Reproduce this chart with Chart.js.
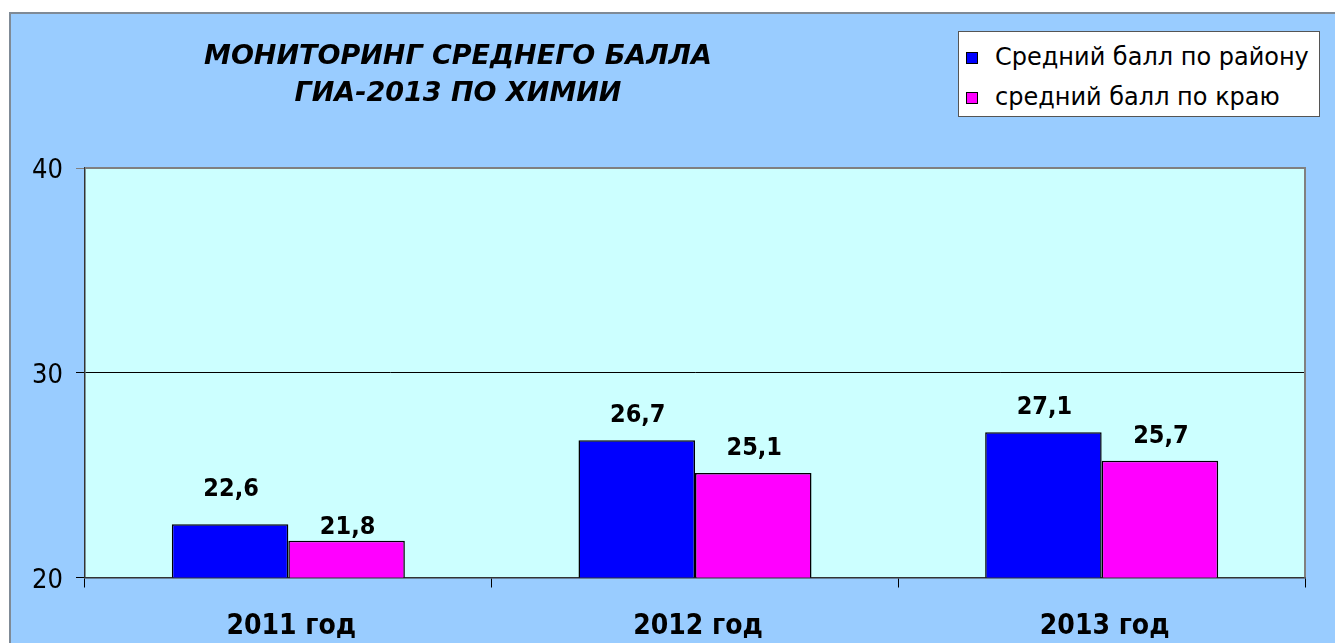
<!DOCTYPE html>
<html>
<head>
<meta charset="utf-8">
<script src="https://cdn.jsdelivr.net/npm/chart.js@4.4.0/dist/chart.umd.min.js"></script>
<style>
  html, body { margin: 0; padding: 0; background: #ffffff; width: 1335px; height: 643px; overflow: hidden; }
  #frame { position: absolute; left: 9px; top: 12px; width: 1400px; height: 700px;
           background: #99CCFF; border-left: 2px solid #7f8a96; border-top: 2px solid #7f8a96; }
  #chart { position: absolute; left: 0; top: 0; }
  #title { position: absolute; left: 158px; width: 600px; top: 36px; text-align: center;
           font-family: "DejaVu Sans", sans-serif; font-weight: bold; font-style: italic;
           font-size: 27px; line-height: 37px; color: #000; }
  #legend { position: absolute; left: 958px; top: 31px; width: 360px; height: 84px; background: #ffffff;
            border: 1px solid #555; font-family: "DejaVu Sans", sans-serif; font-size: 24px; color: #000; }
  .item { position: absolute; left: 7px; height: 30px; line-height: 30px; white-space: nowrap; }
  .sw { display: inline-block; width: 10px; height: 10px; border: 1px solid #000; margin-right: 17px; vertical-align: 1px; }
</style>
</head>
<body>
<div id="frame"></div>
<canvas id="chart" width="1335" height="643"></canvas>
<div id="title">МОНИТОРИНГ СРЕДНЕГО БАЛЛА<br>ГИА-2013 ПО ХИМИИ</div>
<div id="legend"></div>
<script>
const categories = ["2011 год", "2012 год", "2013 год"];
const seriesNames = ["Средний балл по району", "средний балл по краю"];
const districtValues = [22.6, 26.7, 27.1];
const regionValues = [21.8, 25.1, 25.7];
const yTicks = [20, 30, 40];
const seriesColors = ["#0000FF", "#FF00FF"];

// legend built from the series arrays
const legendEl = document.getElementById('legend');
seriesNames.forEach((name, i) => {
  const d = document.createElement('div');
  d.className = 'item';
  d.style.top = (i === 0 ? 10 : 50) + 'px';
  d.innerHTML = '<span class="sw" style="background:' + seriesColors[i] + '"></span>' + name;
  legendEl.appendChild(d);
});

const plotBg = {
  id: 'plotBg',
  beforeDraw(chart) {
    const { ctx, chartArea: a } = chart;
    ctx.save();
    ctx.fillStyle = '#CCFFFF';
    ctx.fillRect(a.left, a.top, a.right - a.left, a.bottom - a.top);
    ctx.restore();
  },
  afterDraw(chart) {
    const { ctx, chartArea: a } = chart;
    ctx.save();
    ctx.strokeStyle = '#808080';
    ctx.lineWidth = 2;
    ctx.beginPath();
    ctx.moveTo(a.left, a.top);
    ctx.lineTo(a.right, a.top);
    ctx.lineTo(a.right, a.bottom);
    ctx.stroke();
    ctx.restore();
  }
};

// label gap above each bar (style only; the reference has the 2011 labels nudged)
const labelGap = [[28, 18, 18], [7, 18, 18]];

const valueLabels = {
  id: 'valueLabels',
  afterDatasetsDraw(chart) {
    const ctx = chart.ctx;
    ctx.save();
    ctx.font = 'bold 25px "DejaVu Sans Condensed", "DejaVu Sans", sans-serif';
    ctx.fillStyle = '#000';
    ctx.textAlign = 'center';
    ctx.textBaseline = 'alphabetic';
    chart.data.datasets.forEach((ds, di) => {
      chart.getDatasetMeta(di).data.forEach((bar, i) => {
        const txt = ds.data[i].toFixed(1).replace('.', ',');
        ctx.fillText(txt, bar.x + 1, bar.y - labelGap[di][i]);
      });
    });
    ctx.restore();
  }
};

new Chart(document.getElementById('chart'), {
  type: 'bar',
  data: {
    labels: categories,
    datasets: [
      { label: seriesNames[0], data: districtValues, backgroundColor: seriesColors[0], borderColor: '#000', borderWidth: 1.5 },
      { label: seriesNames[1], data: regionValues, backgroundColor: seriesColors[1], borderColor: '#000', borderWidth: 1.5 }
    ]
  },
  options: {
    responsive: false,
    animation: false,
    layout: { padding: { left: 0, right: 30, top: 168, bottom: 0 } },
    plugins: { legend: { display: false }, title: { display: false }, tooltip: { enabled: false } },
    datasets: { bar: { categoryPercentage: 0.573, barPercentage: 1.0 } },
    scales: {
      x: {
        offset: true,
        afterFit(scale) { scale.height = 643 - 577.5; },
        grid: { offset: true, drawOnChartArea: false, drawTicks: true, tickLength: 10, color: '#000', lineWidth: 1 },
        border: { display: true, color: '#333', width: 1.5 },
        ticks: { color: '#000', padding: 22, labelOffset: 3,
                 font: { family: '"DejaVu Sans Condensed", "DejaVu Sans", sans-serif', size: 28, weight: 'bold' } }
      },
      y: {
        min: 20, max: 40,
        afterFit(scale) { scale.width = 85; },
        afterBuildTicks(scale) { scale.ticks = yTicks.map(v => ({ value: v })); },
        grid: {
          drawTicks: true, tickLength: 9,
          color: ctx => (ctx.tick && ctx.tick.value === 40 ? '#808080' : '#000'),
          lineWidth: 1
        },
        border: { display: true, color: '#333', width: 1.5 },
        ticks: { color: '#000', padding: 13, labelOffset: 3,
                 font: { family: '"DejaVu Sans Condensed", "DejaVu Sans", sans-serif', size: 27 } }
      }
    }
  },
  plugins: [plotBg, valueLabels]
});
</script>
</body>
</html>
